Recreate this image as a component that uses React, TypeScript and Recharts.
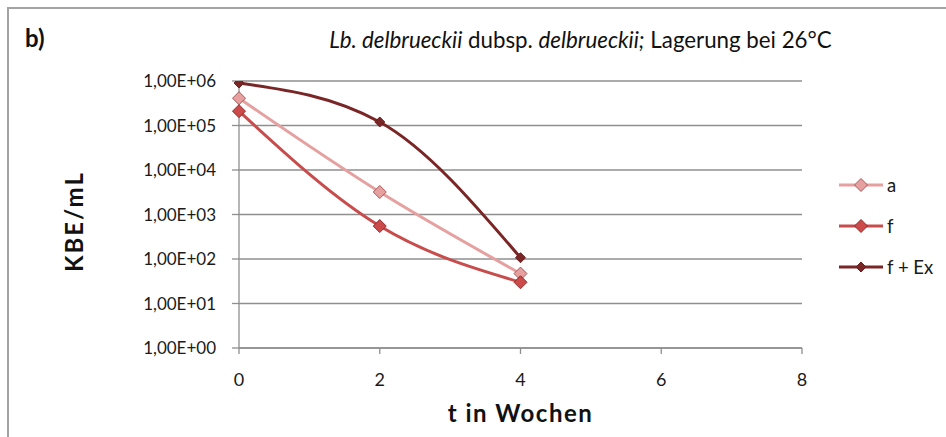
import {
  CartesianGrid,
  Line,
  LineChart,
  XAxis,
  YAxis,
} from "recharts";

const WEEKS = [0, 2, 4];
const SERIES_A = [4.1e5, 3.2e3, 47];
const SERIES_F = [2.1e5, 550, 30];
const SERIES_F_EX = [9.0e5, 1.2e5, 107];

const X_TICKS = [0, 2, 4, 6, 8];
const Y_TICKS = [1, 10, 100, 1000, 10000, 100000, 1000000];

const SERIES = [
  { key: "a", name: "a", line: "#e6a0a0", fill: "#e6a0a0", stroke: "#a85a5a", r: 6.5 },
  { key: "f", name: "f", line: "#c94c4c", fill: "#cc4a4a", stroke: "#8e2d2d", r: 6.5 },
  { key: "fex", name: "f + Ex", line: "#7a2626", fill: "#7a2626", stroke: "#6a1e1e", r: 5 },
];

const FONT = "Lato, 'Open Sans', sans-serif";

const chartData = WEEKS.map((t, i) => ({
  t,
  a: SERIES_A[i],
  f: SERIES_F[i],
  fex: SERIES_F_EX[i],
}));

// "1,00E+06" style, like the German Excel export
const sciLabel = (v: number) => {
  const exp = Math.round(Math.log10(v));
  return `1,00E+${String(exp).padStart(2, "0")}`;
};

const diamondPath = (cx: number, cy: number, r: number) =>
  `M${cx},${cy - r}L${cx + r},${cy}L${cx},${cy + r}L${cx - r},${cy}Z`;

const makeDot = (s: (typeof SERIES)[number]) => (props: any) => {
  const { cx, cy, index } = props;
  if (cx == null || cy == null) return <g key={`${s.key}-${index}`} />;
  return (
    <path
      key={`${s.key}-${index}`}
      d={diamondPath(cx, cy, s.r)}
      fill={s.fill}
      stroke={s.stroke}
      strokeWidth={1}
    />
  );
};

// rotated axis title, centred a bit below the plot middle like the original
const yTitle = (props: any) => {
  const { viewBox } = props;
  const x = 73;
  const y = viewBox.y + viewBox.height / 2 + 7;
  return (
    <text
      x={x}
      y={y}
      transform={`rotate(-90, ${x}, ${y})`}
      textAnchor="middle"
      dominantBaseline="central"
      fontSize={24}
      fontWeight={700}
      letterSpacing={2}
      fill="#111"
      fontFamily={FONT}
    >
      KBE/mL
    </text>
  );
};

// legend drawn outside the chart so it doesn't eat into the plot area
function SeriesLegend() {
  return (
    <div
      style={{
        position: "absolute",
        left: 838,
        top: 164,
        fontFamily: FONT,
        fontSize: 18.5,
        color: "#1a1a1a",
      }}
    >
      {SERIES.map((s) => (
        <div
          key={s.key}
          style={{ display: "flex", alignItems: "center", height: 41 }}
        >
          <svg width={46} height={16} style={{ marginRight: 3 }}>
            <line x1={1} y1={8} x2={45} y2={8} stroke={s.line} strokeWidth={3} />
            <path
              d={diamondPath(23, 8, s.r)}
              fill={s.fill}
              stroke={s.stroke}
              strokeWidth={1}
            />
          </svg>
          <span>{s.name}</span>
        </div>
      ))}
    </div>
  );
}

export default function App() {
  return (
    <div
      style={{
        position: "absolute",
        left: 0,
        top: 0,
        width: 946,
        height: 437,
        background: "#fff",
        fontFamily: FONT,
      }}
    >
      {/* frame lines at top and left */}
      <div
        style={{
          position: "absolute",
          left: 7,
          top: 7,
          right: 0,
          bottom: 0,
          borderTop: "2px solid #a3a3a3",
          borderLeft: "2px solid #a3a3a3",
        }}
      />
      <div
        style={{
          position: "absolute",
          left: 25,
          top: 23,
          fontSize: 24,
          fontWeight: 700,
          color: "#111",
        }}
      >
        b)
      </div>
      <div
        style={{
          position: "absolute",
          left: 0,
          width: 1161,
          top: 26,
          textAlign: "center",
          fontSize: 22.3,
          color: "#111",
          whiteSpace: "nowrap",
        }}
      >
        <i>Lb. delbrueckii</i> dubsp. <i>delbrueckii;</i> Lagerung bei 26°C
      </div>

      <LineChart
        width={946}
        height={437}
        data={chartData}
        margin={{ top: 81, right: 144, bottom: 0, left: 0 }}
        style={{ position: "absolute", left: 0, top: 0 }}
      >
        <CartesianGrid vertical={false} stroke="#8f8f8f" strokeWidth={1.3} />
        <XAxis
          type="number"
          dataKey="t"
          domain={[0, 8]}
          ticks={X_TICKS}
          height={89}
          stroke="#8f8f8f"
          strokeWidth={1.3}
          tickSize={6}
          tickMargin={19}
          tick={{ fill: "#1a1a1a", fontSize: 18, fontFamily: FONT }}
          label={{
            value: "t in Wochen",
            position: "insideBottom",
            offset: 15,
            style: {
              fontSize: 24,
              fontWeight: 700,
              letterSpacing: 1.5,
              fill: "#111",
              fontFamily: FONT,
            },
          }}
        />
        <YAxis
          scale="log"
          domain={[1, 1000000]}
          ticks={Y_TICKS}
          allowDataOverflow
          width={239}
          stroke="#8f8f8f"
          strokeWidth={1.3}
          tickSize={7}
          tickMargin={16}
          tickFormatter={sciLabel}
          tick={{ fill: "#1a1a1a", fontSize: 17, fontFamily: FONT }}
          label={{ content: yTitle }}
        />
        {SERIES.map((s) => (
          <Line
            key={s.key}
            type="monotone"
            dataKey={s.key}
            name={s.name}
            stroke={s.line}
            strokeWidth={3}
            dot={makeDot(s)}
            activeDot={false}
            isAnimationActive={false}
          />
        ))}
      </LineChart>
      <SeriesLegend />
    </div>
  );
}
